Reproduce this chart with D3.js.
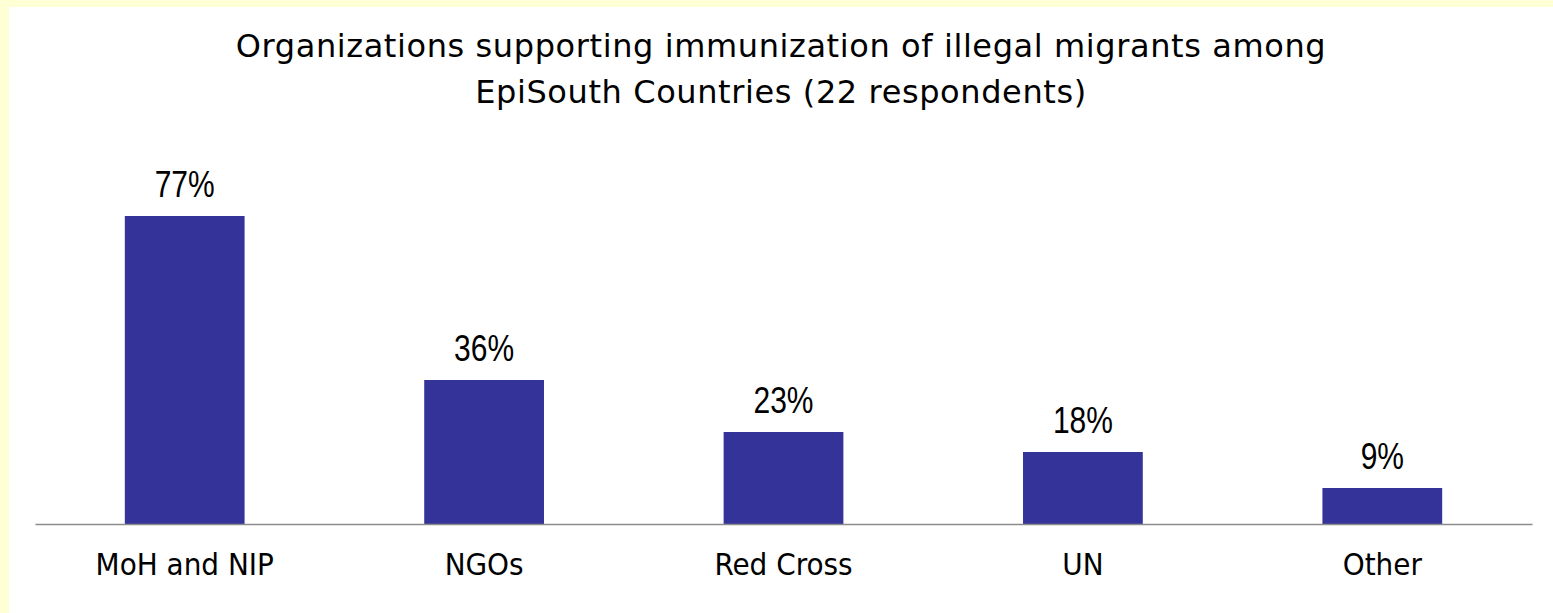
<!DOCTYPE html>
<html>
<head>
<meta charset="utf-8">
<script src="https://cdn.jsdelivr.net/npm/d3@7"></script>
<style>
  html, body { margin: 0; padding: 0; background: #fff; }
  svg { display: block; }
</style>
</head>
<body>
<div id="chart"></div>
<script>
// data (22 respondents)
var categories = ["MoH and NIP", "NGOs", "Red Cross", "UN", "Other"];
var percents = [77, 36, 23, 18, 9];
var titleLines = [
  "Organizations supporting immunization of illegal migrants among",
  "EpiSouth Countries (22 respondents)"
];

var width = 1553, height = 613;
var left = 35, right = 1532, baseY = 524;

var svg = d3.select("#chart").append("svg")
    .attr("width", width)
    .attr("height", height);

// yellow slide frame on top and left
svg.append("rect").attr("x", 0).attr("y", 0).attr("width", width).attr("height", 7).attr("fill", "#ffffd6");
svg.append("rect").attr("x", 0).attr("y", 0).attr("width", 9).attr("height", height).attr("fill", "#ffffd6");

var x = d3.scaleBand()
    .domain(categories)
    .range([left, right])
    .paddingInner(0.6)
    .paddingOuter(0.3);

var y = d3.scaleLinear()
    .domain([0, 100])
    .range([baseY, baseY - 400]);

var data = categories.map(function(c, i) {
    return {name: c, value: percents[i]};
});

// title
svg.append("text")
    .attr("text-anchor", "middle")
    .style("font-family", "'DejaVu Sans', sans-serif")
    .style("font-size", "32px")
    .style("letter-spacing", "0.6px")
    .style("fill", "#000")
    .selectAll("tspan")
    .data(titleLines)
    .enter().append("tspan")
    .attr("x", 781)
    .attr("y", function(d, i) { return 57 + i * 46; })
    .text(function(d) { return d; });

// bars
svg.selectAll("rect.bar")
    .data(data)
    .enter().append("rect")
    .attr("class", "bar")
    .attr("x", function(d) { return x(d.name); })
    .attr("y", function(d) { return y(d.value); })
    .attr("width", x.bandwidth())
    .attr("height", function(d) { return baseY - y(d.value); })
    .style("fill", "#333399");

// value labels (the slide font is tall and narrow, so stretch vertically)
svg.selectAll("text.val")
    .data(data)
    .enter().append("text")
    .attr("class", "val")
    .attr("text-anchor", "middle")
    .attr("transform", function(d) {
        return "translate(" + (x(d.name) + x.bandwidth() / 2) + "," + (y(d.value) - 19) + ") scale(1,1.2)";
    })
    .style("font-family", "'Liberation Sans', Arial, sans-serif")
    .style("font-size", "30px")
    .style("fill", "#000")
    .text(function(d) { return d.value + "%"; });

// category axis
var axis = svg.append("g")
    .attr("transform", "translate(0," + baseY + ")")
    .call(d3.axisBottom(x).tickSize(0).tickSizeOuter(0).tickPadding(29));

axis.select(".domain")
    .attr("stroke", "#8c8c8c")
    .attr("stroke-width", 1.5);

axis.selectAll("text")
    .style("font-family", "'DejaVu Sans Condensed', 'DejaVu Sans', sans-serif")
    .style("font-size", "31px")
    .style("fill", "#000");
</script>
</body>
</html>
